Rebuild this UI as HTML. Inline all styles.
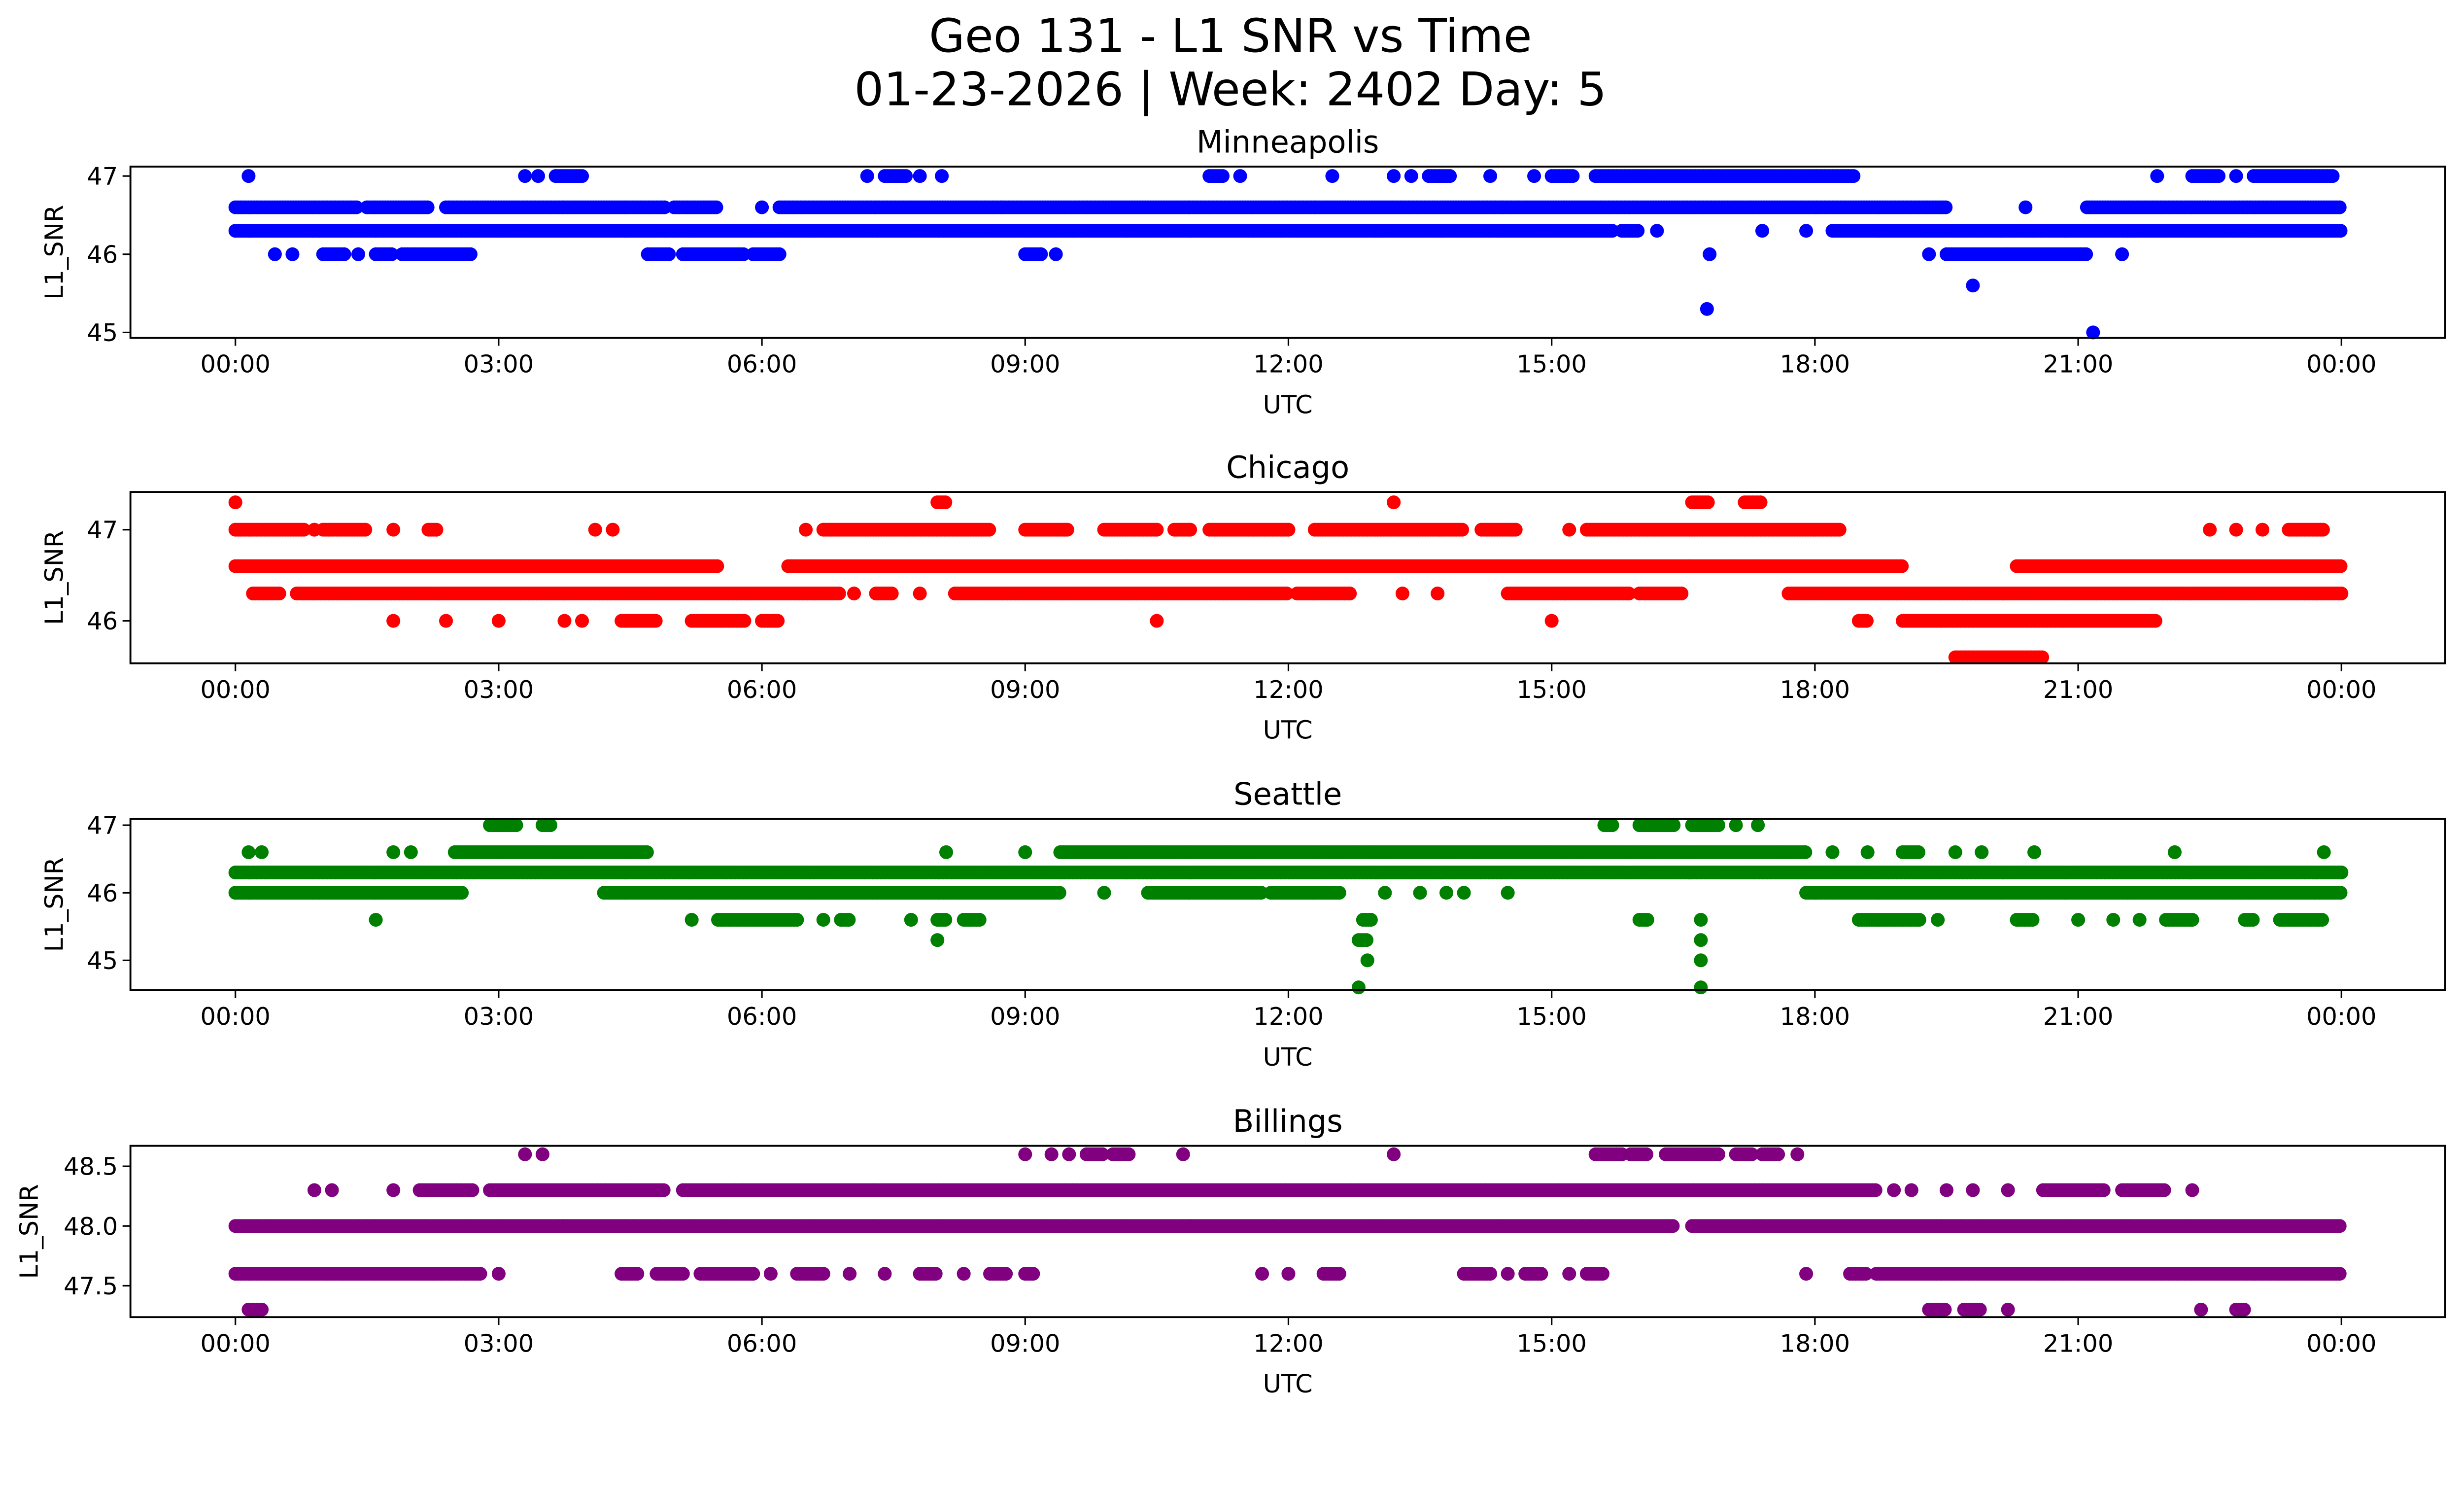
<!DOCTYPE html>
<html><head><meta charset="utf-8"><style>
html,body{margin:0;padding:0;background:#fff;overflow:hidden}
svg{display:block;position:absolute;left:0;top:0;width:100vw;height:auto}
text{font-family:"DejaVu Sans","Liberation Sans",sans-serif;fill:#000}
</style></head><body>
<svg id="fig" viewBox="0 0 1568 901" xmlns="http://www.w3.org/2000/svg">
<rect width="1568" height="901" fill="#fff"/>
<text x="783" y="33" font-size="29.5" text-anchor="middle">Geo 131 - L1 SNR vs Time</text>
<text x="783" y="67" font-size="29.5" text-anchor="middle">01-23-2026 | Week: 2402 Day: 5</text>
<g id="plots"></g>
</svg>
<script>
// x tick labels (hours)
const xTickHours = [0,3,6,9,12,15,18,21,24];
const xTickLabels = ["00:00","03:00","06:00","09:00","12:00","15:00","18:00","21:00","00:00"];

// Minneapolis
const mplsLevels = [47, 46.6, 46.3, 46, 45.6, 45.3, 45];
const mplsRuns = [
 [[0.15,0.15],[3.3,3.3],[3.45,3.45],[3.65,3.95],[7.2,7.2],[7.4,7.65],[7.8,7.8],[8.05,8.05],[11.1,11.25],[11.45,11.45],[12.5,12.5],[13.2,13.2],[13.4,13.4],[13.6,13.85],[14.3,14.3],[14.8,14.8],[15.0,15.25],[15.5,18.45],[21.9,21.9],[22.3,22.6],[22.8,22.8],[23.0,23.9]],
 [[0,1.4],[1.5,2.2],[2.4,4.9],[5.0,5.5],[6.0,6.0],[6.2,19.5],[20.4,20.4],[21.1,24]],
 [[0,15.7],[15.8,16.0],[16.2,16.2],[17.4,17.4],[17.9,17.9],[18.2,24]],
 [[0.45,0.45],[0.65,0.65],[1.0,1.25],[1.4,1.4],[1.6,1.8],[1.9,2.7],[4.7,4.95],[5.1,5.8],[5.9,6.2],[9.0,9.2],[9.35,9.35],[16.8,16.8],[19.3,19.3],[19.5,21.1],[21.5,21.5]],
 [[19.8,19.8]],
 [[16.77,16.77]],
 [[21.17,21.17]]
];
const mplsTicks = [45,46,47];

// Chicago
const chiLevels = [47.3, 47, 46.6, 46.3, 46, 45.6];
const chiRuns = [
 [[0,0],[8.0,8.1],[13.2,13.2],[16.6,16.8],[17.2,17.4]],
 [[0,0.8],[0.9,0.9],[1.0,1.5],[1.8,1.8],[2.2,2.3],[4.1,4.1],[4.3,4.3],[6.5,6.5],[6.7,8.6],[9.0,9.5],[9.9,10.5],[10.7,10.9],[11.1,12.0],[12.3,14.0],[14.2,14.6],[15.2,15.2],[15.4,18.3],[22.5,22.5],[22.8,22.8],[23.1,23.1],[23.4,23.8]],
 [[0,5.5],[6.3,19.0],[20.3,24]],
 [[0.2,0.5],[0.7,6.9],[7.05,7.05],[7.3,7.5],[7.8,7.8],[8.2,12.0],[12.1,12.7],[13.3,13.3],[13.7,13.7],[14.5,15.9],[16.0,16.5],[17.7,24]],
 [[1.8,1.8],[2.4,2.4],[3.0,3.0],[3.75,3.75],[3.95,3.95],[4.4,4.8],[5.2,5.8],[6.0,6.2],[10.5,10.5],[15.0,15.0],[18.5,18.6],[19.0,21.9]],
 [[19.6,20.6]]
];
const chiTicks = [46,47];

// Seattle
const seaLevels = [47, 46.6, 46.3, 46, 45.6, 45.3, 45, 44.6];
const seaRuns = [
 [[2.9,3.2],[3.5,3.6],[15.6,15.7],[16.0,16.4],[16.6,16.9],[17.1,17.1],[17.35,17.35]],
 [[0.15,0.15],[0.3,0.3],[1.8,1.8],[2.0,2.0],[2.5,4.7],[8.1,8.1],[9.0,9.0],[9.4,17.9],[18.2,18.2],[18.6,18.6],[19.0,19.2],[19.6,19.6],[19.9,19.9],[20.5,20.5],[22.1,22.1],[23.8,23.8]],
 [[0,24]],
 [[0,2.6],[4.2,9.4],[9.9,9.9],[10.4,11.7],[11.8,12.6],[13.1,13.1],[13.5,13.5],[13.8,13.8],[14.0,14.0],[14.5,14.5],[17.9,24]],
 [[1.6,1.6],[5.2,5.2],[5.5,6.4],[6.7,6.7],[6.9,7.0],[7.7,7.7],[8.0,8.1],[8.3,8.5],[12.85,12.95],[16.0,16.1],[16.7,16.7],[18.5,19.2],[19.4,19.4],[20.3,20.5],[21.0,21.0],[21.4,21.4],[21.7,21.7],[22.0,22.3],[22.9,23.0],[23.3,23.8]],
 [[8.0,8.0],[12.8,12.9],[16.7,16.7]],
 [[12.9,12.9],[16.7,16.7]],
 [[12.8,12.8],[16.7,16.7]]
];
const seaTicks = [45,46,47];

// Billings
const bilLevels = [48.6, 48.3, 48.0, 47.6, 47.3];
const bilRuns = [
 [[3.3,3.3],[3.5,3.5],[9.0,9.0],[9.3,9.3],[9.5,9.5],[9.7,9.9],[10.0,10.2],[10.8,10.8],[13.2,13.2],[15.5,15.8],[15.9,16.1],[16.3,16.9],[17.1,17.3],[17.4,17.6],[17.8,17.8]],
 [[0.9,0.9],[1.1,1.1],[1.8,1.8],[2.1,2.7],[2.9,4.9],[5.1,18.7],[18.9,18.9],[19.1,19.1],[19.5,19.5],[19.8,19.8],[20.2,20.2],[20.6,21.3],[21.5,22.0],[22.3,22.3]],
 [[0,16.4],[16.6,24]],
 [[0,2.8],[3.0,3.0],[4.4,4.6],[4.8,5.1],[5.3,5.9],[6.1,6.1],[6.4,6.7],[7.0,7.0],[7.4,7.4],[7.8,8.0],[8.3,8.3],[8.6,8.8],[9.0,9.1],[11.7,11.7],[12.0,12.0],[12.4,12.6],[14.0,14.3],[14.5,14.5],[14.7,14.9],[15.2,15.2],[15.4,15.6],[17.9,17.9],[18.4,18.6],[18.7,24]],
 [[0.15,0.3],[19.3,19.5],[19.7,19.9],[20.2,20.2],[22.4,22.4],[22.8,22.9]]
];
const bilTicks = [47.5,48.0,48.5];
const bilTickLabels = ["47.5","48.0","48.5"];

const NS = "http://www.w3.org/2000/svg";
const root = document.getElementById('plots');
function mk(tag, attrs, parent){const e=document.createElementNS(NS,tag);for(const k in attrs)e.setAttribute(k,attrs[k]);parent.appendChild(e);return e;}

const AX_L=83, AX_R=1556;
function xScale(h){return 149.8 + h*(1490-149.8)/24;}

function panel(cfg){
  const g = mk('g',{},root);
  
  
  const top=cfg.top, bot=cfg.top+109;
  const yScale = v => cfg.y0 + (cfg.v0 - v)*cfg.ppu;
  const t = mk('text',{x:(AX_L+AX_R)/2,y:top-9,'font-size':19.5,'text-anchor':'middle'},g);
  t.textContent = cfg.title;
  
  
  const pts = mk('g',{fill:cfg.color},g);
  
  
  cfg.levels.forEach((lv,i)=>{
    const y=yScale(lv);
    cfg.runs[i].forEach(r=>{
      for(let h=r[0]; h<=r[1]+1e-9; h+=0.03){
        const c = mk('circle',{cx:xScale(h).toFixed(2),cy:y.toFixed(2),r:4.4},pts);
        
        
      }
    });
  });
  const box = mk('rect',{x:AX_L,y:top,width:AX_R-AX_L,height:bot-top,fill:'none',stroke:'#000','stroke-width':1.2},g);
  
  
  xTickHours.forEach((h,i)=>{
    const x=xScale(h);
    mk('line',{x1:x,x2:x,y1:bot,y2:bot+5,stroke:'#000','stroke-width':1},g);
    const l = mk('text',{x:x,y:bot+22,'font-size':15.5,'text-anchor':'middle'},g);
    l.textContent = xTickLabels[i];
    
    
  });
  const xl = mk('text',{x:(AX_L+AX_R)/2,y:bot+48,'font-size':16,'text-anchor':'middle'},g);
  xl.textContent='UTC';
  
  
  cfg.ticks.forEach((v,i)=>{
    const y=yScale(v);
    mk('line',{x1:AX_L-5,x2:AX_L,y1:y,y2:y,stroke:'#000','stroke-width':1},g);
    const l = mk('text',{x:AX_L-8,y:y+5.5,'font-size':15.5,'text-anchor':'end'},g);
    l.textContent = cfg.tickLabels ? cfg.tickLabels[i] : String(v);
    
    
  });
  const yl = mk('text',{x:0,y:0,'font-size':16,'text-anchor':'middle',transform:`translate(${cfg.ylx},${(top+bot)/2}) rotate(-90)`},g);
  yl.textContent='L1_SNR';
  
  
}

panel({name:'minneapolis',title:'Minneapolis',top:106,color:'#0000ff',levels:mplsLevels,runs:mplsRuns,ticks:mplsTicks,v0:47,y0:112,ppu:49.75,ylx:40});
panel({name:'chicago',title:'Chicago',top:313,color:'#ff0000',levels:chiLevels,runs:chiRuns,ticks:chiTicks,v0:47,y0:337,ppu:58,ylx:40});
panel({name:'seattle',title:'Seattle',top:521,color:'#008000',levels:seaLevels,runs:seaRuns,ticks:seaTicks,v0:47,y0:525,ppu:43,ylx:40});
panel({name:'billings',title:'Billings',top:729,color:'#800080',levels:bilLevels,runs:bilRuns,ticks:bilTicks,tickLabels:bilTickLabels,v0:48,y0:780,ppu:76,ylx:24});
</script>
</body></html>
